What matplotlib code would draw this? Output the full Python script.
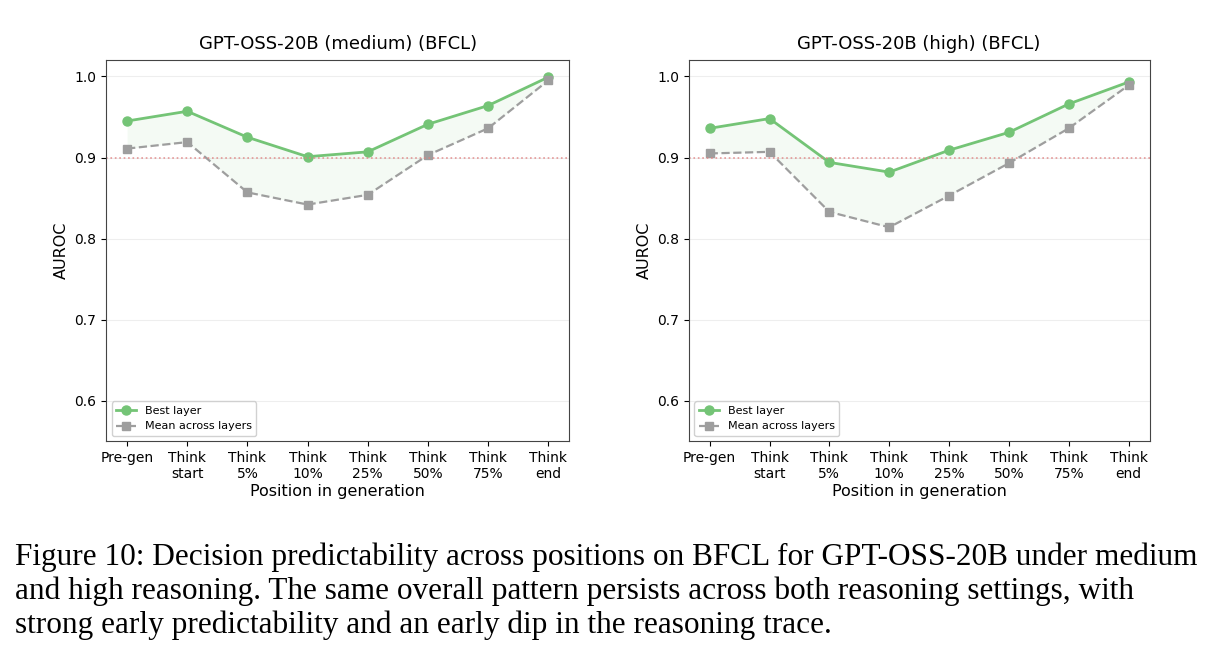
import numpy as np
import matplotlib
matplotlib.use('Agg')
import matplotlib.pyplot as plt

positions = ['Pre-gen', 'Think\nstart', 'Think\n5%', 'Think\n10%', 'Think\n25%',
             'Think\n50%', 'Think\n75%', 'Think\nend']

medium_best = [0.945, 0.957, 0.925, 0.901, 0.907, 0.941, 0.964, 0.999]
medium_mean = [0.911, 0.919, 0.857, 0.842, 0.854, 0.903, 0.936, 0.995]
high_best = [0.936, 0.948, 0.894, 0.882, 0.909, 0.931, 0.966, 0.993]
high_mean = [0.905, 0.907, 0.833, 0.814, 0.853, 0.893, 0.936, 0.989]

titles = ['GPT-OSS-20B (medium) (BFCL)', 'GPT-OSS-20B (high) (BFCL)']

caption = ("Figure 10: Decision predictability across positions on BFCL for GPT-OSS-20B under medium\n"
           "and high reasoning. The same overall pattern persists across both reasoning settings, with\n"
           "strong early predictability and an early dip in the reasoning trace.")

green = '#74c476'
gray = '#9e9e9e'

fig = plt.figure(figsize=(12.19, 6.54), dpi=100)
ax1 = fig.add_axes([0.087, 0.325, 0.380, 0.583])
ax2 = fig.add_axes([0.565, 0.325, 0.378, 0.583])

x = np.arange(len(positions))
for ax, best, mean, title in [(ax1, medium_best, medium_mean, titles[0]),
                              (ax2, high_best, high_mean, titles[1])]:
    ax.fill_between(x, mean, best, color=green, alpha=0.08, linewidth=0)
    ax.plot(x, best, '-o', color=green, lw=2, ms=6.5, label='Best layer')
    ax.plot(x, mean, '--s', color=gray, lw=1.6, ms=5.5, label='Mean across layers')
    ax.axhline(0.9, color='#e08080', ls=':', lw=1.2, alpha=0.8)
    ax.set_ylim(0.55, 1.02)
    ax.set_yticks([0.6, 0.7, 0.8, 0.9, 1.0])
    ax.grid(axis='y', color='#eeeeee', lw=0.8)
    ax.set_axisbelow(True)
    ax.set_xticks(x)
    ax.set_xticklabels(positions, fontsize=10)
    ax.tick_params(axis='y', labelsize=10)
    ax.set_title(title, fontsize=13, pad=8)
    ax.set_xlabel('Position in generation', fontsize=11.5, labelpad=2)
    ax.set_ylabel('AUROC', fontsize=11.5)
    for s in ax.spines.values():
        s.set_color('#444444')
    ax.legend(loc='lower left', fontsize=8, framealpha=0.9, handlelength=1.8)

fig.text(0.012, 0.170, caption, fontsize=22.5, family='Liberation Serif',
         va='top', ha='left', linespacing=1.2)

fig.savefig('out.png', dpi=100)
